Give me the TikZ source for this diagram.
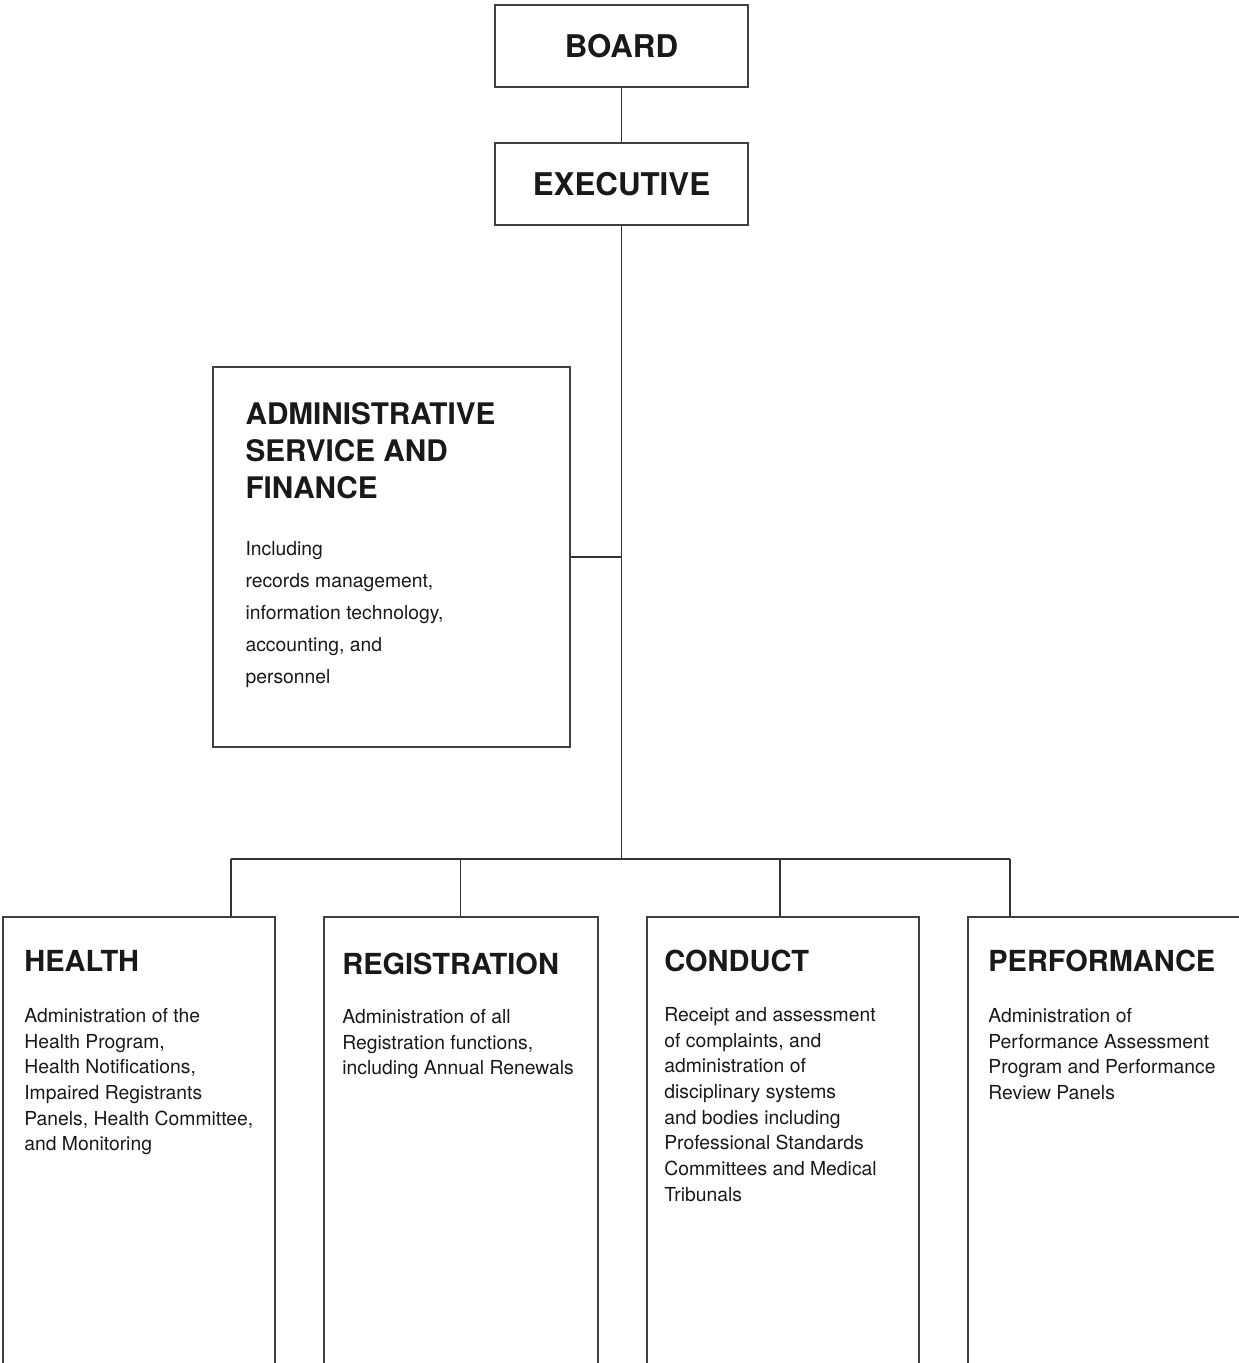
\documentclass[tikz,border=0pt]{standalone}
\usepackage{fontspec}
\setmainfont{TeX Gyre Heros}
\usetikzlibrary{positioning, calc}
\newlength{\pix}
\setlength{\pix}{0.02cm}
\tikzset{
   unitbox/.style={draw=black!75, line width=0.9pt, inner sep=0pt},
   topbox/.style={unitbox, minimum width=253\pix, minimum height=82\pix, text=black!90, font=\fontsize{17.8}{21}\selectfont\bfseries},
   deptbox/.style={unitbox, anchor=north west, minimum height=460\pix},
   mytitle/.style={anchor=north west, inner sep=0pt, align=left, text=black!90, font=\fontsize{16.5}{21}\selectfont\bfseries},
   mytext/.style={anchor=north west, inner sep=0pt, align=left, text=black!90, font=\fontsize{11}{14.6}\selectfont},
   link/.style={draw=black!80, line width=0.8pt}
}

\begin{document}
\begin{tikzpicture}[x=\pix, y=-\pix]
   \useasboundingbox (0,0) rectangle (1239,1363);
   \clip (0,0) rectangle (1239,1363);

   % top of the chart
   \node[topbox] (board) at (621.5,46) {BOARD};
   \node[topbox] (exec) at (621.5,184) {EXECUTIVE};

   \node[unitbox, minimum width=357\pix, minimum height=380\pix] (admin) at (391.5,557) {};
   \node[mytitle, font=\fontsize{16.9}{21}\selectfont\bfseries] (admint) at ([shift={(33,36)}]admin.north west) {ADMINISTRATIVE\\SERVICE AND\\FINANCE};
   \node[mytext, font=\fontsize{11}{18.2}\selectfont] (admind) at ([shift={(33,175)}]admin.north west)
      {Including\\records management,\\information technology,\\accounting, and\\personnel};

   % departments
   \node[deptbox, minimum width=272\pix] (health) at (2,916) {};
   \node[deptbox, minimum width=274\pix] (reg) at (323,916) {};
   \node[deptbox, minimum width=272\pix] (conduct) at (646,916) {};
   \node[deptbox, minimum width=278\pix] (perf) at (967,916) {};

   \node[mytitle] (healtht) at ([shift={(22,34)}]health.north west) {HEALTH};
   \node[mytext] (healthd) at ([shift={(22,92)}]health.north west)
      {Administration of the\\Health Program,\\Health Notifications,\\Impaired Registrants\\Panels, Health Committee,\\and Monitoring};

   \node[mytitle] (regt) at ([shift={(19,37)}]reg.north west) {REGISTRATION};
   \node[mytext] (regd) at ([shift={(19,93)}]reg.north west)
      {Administration of all\\Registration functions,\\including Annual Renewals};

   \node[mytitle] (conductt) at ([shift={(18,34)}]conduct.north west) {CONDUCT};
   \node[mytext] (conductd) at ([shift={(18,91)}]conduct.north west)
      {Receipt and assessment\\of complaints, and\\administration of\\disciplinary systems\\and bodies including\\Professional Standards\\Committees and Medical\\Tribunals};

   \node[mytitle] (perft) at ([shift={(21,34)}]perf.north west) {PERFORMANCE};
   \node[mytext] (perfd) at ([shift={(21,92)}]perf.north west)
      {Administration of\\Performance Assessment\\Program and Performance\\Review Panels};

   % connectors
   \coordinate (bus) at (621.5,859);
   \coordinate (busl) at (231,859);
   \coordinate (busm) at (780,859);
   \coordinate (busr) at (1010,859);
   \path [link] (board) -- (exec);
   \path [link] (exec) -- (bus);
   \path [link] (admin.east) -- (admin.east -| bus);
   \path [link] (busl) -- (busr);
   \path [link] (busl) -- (busl |- health.north);
   \path [link] (reg.north) -- (reg.north |- bus);
   \path [link] (busm) -- (busm |- conduct.north);
   \path [link] (busr) -- (busr |- perf.north);
\end{tikzpicture}
\end{document}
